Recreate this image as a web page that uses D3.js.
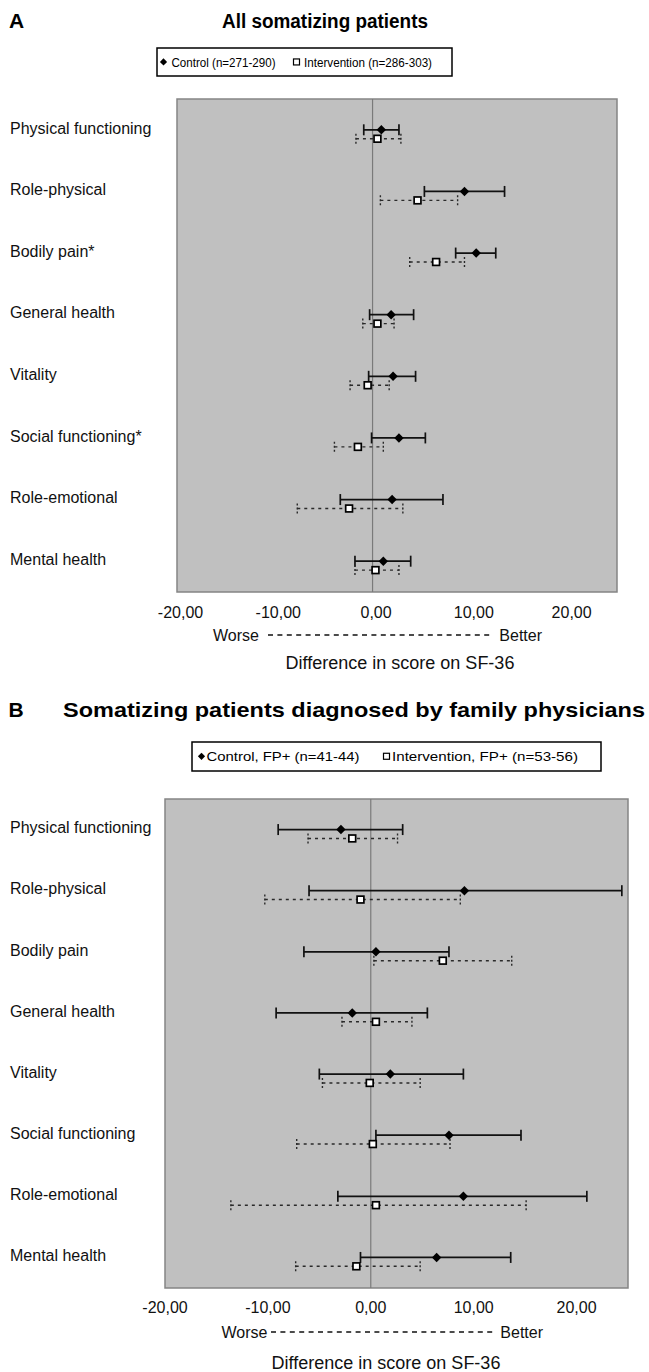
<!DOCTYPE html>
<html>
<head>
<meta charset="utf-8">
<script src="https://cdn.jsdelivr.net/npm/d3@7"></script>
<style>
  html, body { margin: 0; padding: 0; background: #fff; }
  svg { display: block; font-family: "Liberation Sans", Arial, Helvetica, sans-serif; }
</style>
</head>
<body>
<svg id="chart" width="649" height="1372"></svg>
<script>
// ---------- Data ----------
const categoriesA = ["Physical functioning", "Role-physical", "Bodily pain*", "General health",
  "Vitality", "Social functioning*", "Role-emotional", "Mental health"];
const categoriesB = ["Physical functioning", "Role-physical", "Bodily pain", "General health",
  "Vitality", "Social functioning", "Role-emotional", "Mental health"];

const controlMeanA = [0.9, 9.4, 10.6, 1.9, 2.1, 2.7, 2.0, 1.1];
const controlLowA  = [-0.9, 5.3, 8.5, -0.3, -0.4, -0.1, -3.3, -1.8];
const controlHighA = [2.7, 13.5, 12.6, 4.2, 4.4, 5.4, 7.2, 3.9];
const interventionMeanA = [0.5, 4.6, 6.5, 0.5, -0.5, -1.5, -2.4, 0.3];
const interventionLowA  = [-1.7, 0.8, 3.8, -1.0, -2.3, -3.9, -7.7, -1.8];
const interventionHighA = [2.9, 8.7, 9.4, 2.2, 1.7, 1.1, 3.1, 2.7];

const controlMeanB = [-2.9, 9.1, 0.5, -1.8, 1.9, 7.6, 9.0, 6.4];
const controlLowB  = [-9.0, -6.0, -6.5, -9.2, -5.0, 0.5, -3.2, -1.0];
const controlHighB = [3.1, 24.4, 7.6, 5.5, 9.0, 14.6, 21.0, 13.6];
const interventionMeanB = [-1.8, -1.0, 7.0, 0.5, -0.1, 0.2, 0.5, -1.4];
const interventionLowB  = [-6.1, -10.3, 0.3, -2.8, -4.7, -7.2, -13.6, -7.3];
const interventionHighB = [2.6, 8.7, 13.7, 4.0, 4.8, 7.7, 15.1, 4.8];

const xDomain = [-20, 25];
const tickValues = [-20, -10, 0, 10, 20];
const tickLabels = ["-20,00", "-10,00", "0,00", "10,00", "20,00"];

const legendA = ["Control (n=271-290)", "Intervention (n=286-303)"];
const legendB = ["Control, FP+ (n=41-44)", "Intervention, FP+ (n=53-56)"];
const xAxisTitle = "Difference in score on SF-36";

// ---------- Panels ----------
const panels = [
  {
    letter: "A", title: "All somatizing patients",
    cats: categoriesA,
    cM: controlMeanA, cL: controlLowA, cH: controlHighA,
    iM: interventionMeanA, iL: interventionLowA, iH: interventionHighA,
    legend: legendA,
    layout: {
      left: 177, right: 617, top: 99, bottom: 592,
      letterX: 9, titleX: 222, titleY: 28, titleSize: 20, titleLen: 206,
      legBox: [157, 48, 295, 28], legSize: 13, legY: 66.5,
      legItems: [{mx: 163.5, tx: 171.5, len: 104}, {mx: 296.5, tx: 304, len: 128}],
      tickDx: 3.5, tickY: 618, wbY: 640.5, worseX: 213, betterX: 542, dashFrom: 268, dashTo: 493,
      diffX: 400, diffY: 669
    }
  },
  {
    letter: "B", title: "Somatizing patients diagnosed by family physicians",
    cats: categoriesB,
    cM: controlMeanB, cL: controlLowB, cH: controlHighB,
    iM: interventionMeanB, iL: interventionLowB, iH: interventionHighB,
    legend: legendB,
    layout: {
      left: 165, right: 628, top: 799, bottom: 1288,
      letterX: 8.5, titleX: 63, titleY: 717, titleSize: 21, titleLen: 582,
      legBox: [192, 742, 409, 29], legSize: 13.5, legY: 761,
      legItems: [{mx: 201.5, tx: 206.5, len: 153}, {mx: 386.5, tx: 392, len: 186}],
      tickDx: 0, tickY: 1312.5, wbY: 1337.5, worseX: 221.5, betterX: 543, dashFrom: 271, dashTo: 495,
      diffX: 386, diffY: 1369
    }
  }
];

const svg = d3.select("#chart");
const diamondPath = "M0,-4.7L4.7,0L0,4.7L-4.7,0Z";

panels.forEach(p => {
  const L = p.layout;
  const g = svg.append("g");
  const x = d3.scaleLinear().domain(xDomain).range([L.left, L.right]);
  const y = d3.scaleBand().domain(p.cats).range([L.top, L.bottom]);
  const bw = y.bandwidth();
  const yc = c => y(c) + bw / 2;
  const yi = c => y(c) + bw / 2 + bw * 0.145;

  // Letter and title
  g.append("text").attr("x", L.letterX).attr("y", L.titleY)
    .attr("font-size", 21).attr("font-weight", "bold").text(p.letter);
  g.append("text").attr("x", L.titleX).attr("y", L.titleY)
    .attr("font-size", L.titleSize).attr("font-weight", "bold")
    .attr("textLength", L.titleLen).attr("lengthAdjust", "spacingAndGlyphs").text(p.title);

  // Legend
  const [bx, by, bwid, bht] = L.legBox;
  g.append("rect").attr("x", bx).attr("y", by).attr("width", bwid).attr("height", bht)
    .attr("fill", "#fff").attr("stroke", "#000").attr("stroke-width", 1.5);
  const my = L.legY - L.legSize * 0.35;
  g.append("path").attr("d", "M0,-3.6L3.6,0L0,3.6L-3.6,0Z")
    .attr("transform", `translate(${L.legItems[0].mx},${my})`).attr("fill", "#000");
  g.append("rect").attr("x", L.legItems[1].mx - 3).attr("y", my - 3).attr("width", 6).attr("height", 6)
    .attr("fill", "#fff").attr("stroke", "#000").attr("stroke-width", 1.2);
  p.legend.forEach((txt, i) => {
    g.append("text").attr("x", L.legItems[i].tx).attr("y", L.legY)
      .attr("font-size", L.legSize).attr("textLength", L.legItems[i].len)
      .attr("lengthAdjust", "spacingAndGlyphs").text(txt);
  });

  // Plot area
  g.append("rect").attr("x", L.left).attr("y", L.top)
    .attr("width", L.right - L.left).attr("height", L.bottom - L.top)
    .attr("fill", "#c0c0c0").attr("stroke", "#858585").attr("stroke-width", 1.5);
  g.append("line").attr("x1", x(0)).attr("x2", x(0)).attr("y1", L.top).attr("y2", L.bottom)
    .attr("stroke", "#7a7a7a").attr("stroke-width", 1.2);

  // Category labels
  g.selectAll(".cat").data(p.cats).enter().append("text")
    .attr("x", 10).attr("y", d => yc(d) + 3.8)
    .attr("font-size", 16).attr("fill", "#111").text(d => d);

  // Control error bars (solid)
  const cg = g.append("g").attr("stroke", "#111").attr("stroke-width", 1.7).attr("fill", "none");
  p.cats.forEach((c, i) => {
    const yy = yc(c);
    cg.append("line").attr("x1", x(p.cL[i])).attr("x2", x(p.cH[i])).attr("y1", yy).attr("y2", yy);
    [p.cL[i], p.cH[i]].forEach(v => {
      cg.append("line").attr("x1", x(v)).attr("x2", x(v)).attr("y1", yy - 5.5).attr("y2", yy + 5.5);
    });
  });
  // Intervention error bars (dotted)
  const ig = g.append("g").attr("stroke", "#2a2a2a").attr("stroke-width", 1.4).attr("fill", "none");
  p.cats.forEach((c, i) => {
    const yy = yi(c);
    ig.append("line").attr("x1", x(p.iL[i])).attr("x2", x(p.iH[i])).attr("y1", yy).attr("y2", yy)
      .attr("stroke-dasharray", "3,4");
    [p.iL[i], p.iH[i]].forEach(v => {
      ig.append("line").attr("x1", x(v)).attr("x2", x(v)).attr("y1", yy - 5).attr("y2", yy + 5)
        .attr("stroke-dasharray", "2,2");
    });
  });
  // Markers
  g.selectAll(".cm").data(p.cats).enter().append("path")
    .attr("d", diamondPath)
    .attr("transform", (d, i) => `translate(${x(p.cM[i])},${yc(d)})`)
    .attr("fill", "#000");
  g.selectAll(".im").data(p.cats).enter().append("rect")
    .attr("x", (d, i) => x(p.iM[i]) - 3.4).attr("y", d => yi(d) - 3.4)
    .attr("width", 6.8).attr("height", 6.8)
    .attr("fill", "#fff").attr("stroke", "#000").attr("stroke-width", 1.7);

  // X axis tick labels
  g.selectAll(".tick").data(tickValues).enter().append("text")
    .attr("x", d => x(d) + L.tickDx).attr("y", L.tickY)
    .attr("text-anchor", "middle").attr("font-size", 16).attr("fill", "#111")
    .text((d, i) => tickLabels[i]);

  // Worse / Better
  g.append("text").attr("x", L.worseX).attr("y", L.wbY).attr("font-size", 16).attr("fill", "#111").text("Worse");
  g.append("text").attr("x", L.betterX).attr("y", L.wbY).attr("text-anchor", "end")
    .attr("font-size", 16).attr("fill", "#111").text("Better");
  g.append("line").attr("x1", L.dashFrom).attr("x2", L.dashTo)
    .attr("y1", L.wbY - 5.5).attr("y2", L.wbY - 5.5)
    .attr("stroke", "#111").attr("stroke-width", 1.3).attr("stroke-dasharray", "5,4.4");

  // Axis title
  g.append("text").attr("x", L.diffX).attr("y", L.diffY).attr("text-anchor", "middle")
    .attr("font-size", 18).attr("fill", "#111").text(xAxisTitle);
});
</script>
</body>
</html>
